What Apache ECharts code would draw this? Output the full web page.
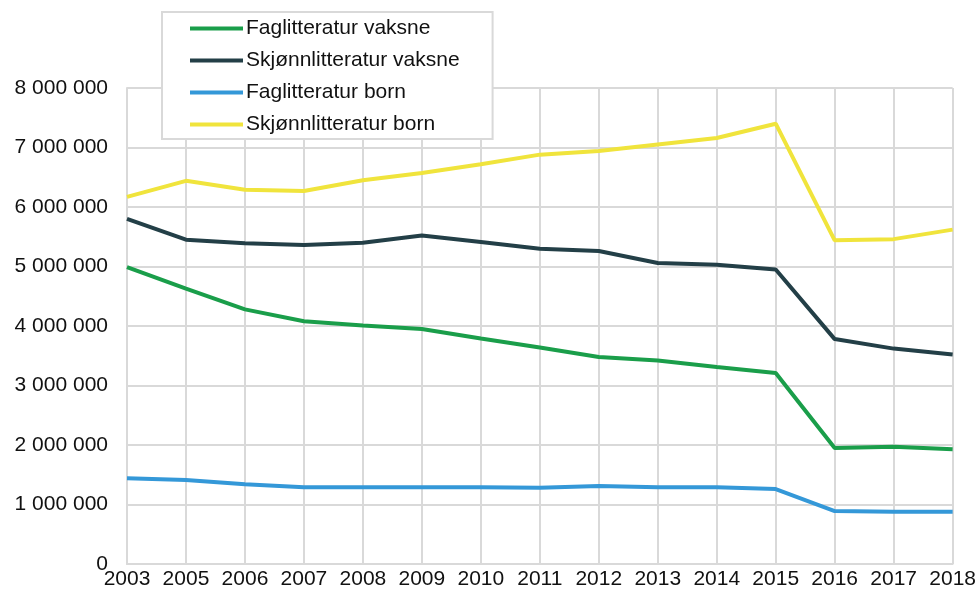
<!DOCTYPE html>
<html>
<head>
<meta charset="utf-8">
<script src="https://cdn.jsdelivr.net/npm/echarts@6/dist/echarts.min.js"></script>
<style>
  html, body { margin: 0; padding: 0; background: #fff; }
  #chart { width: 979px; height: 590px; }
</style>
</head>
<body>
<div id="chart"></div>
<script>
var years = ['2003', '2005', '2006', '2007', '2008', '2009', '2010', '2011', '2012', '2013', '2014', '2015', '2016', '2017', '2018'];
var fagVaksne = [4990000, 4630000, 4280000, 4080000, 4010000, 3950000, 3790000, 3640000, 3480000, 3420000, 3310000, 3210000, 1950000, 1970000, 1930000];
var skjonnVaksne = [5800000, 5450000, 5390000, 5360000, 5400000, 5520000, 5410000, 5300000, 5260000, 5060000, 5030000, 4950000, 3780000, 3620000, 3520000];
var fagBorn = [1440000, 1410000, 1340000, 1290000, 1290000, 1290000, 1290000, 1280000, 1310000, 1290000, 1290000, 1260000, 890000, 880000, 880000];
var skjonnBorn = [6170000, 6440000, 6290000, 6270000, 6450000, 6570000, 6720000, 6880000, 6940000, 7050000, 7160000, 7400000, 5440000, 5460000, 5620000];

var seriesNames = ['Faglitteratur vaksne', 'Skjønnlitteratur vaksne', 'Faglitteratur born', 'Skjønnlitteratur born'];
var seriesData = [fagVaksne, skjonnVaksne, fagBorn, skjonnBorn];
var colors = ['#1a9e4a', '#233f47', '#3498d8', '#f0e43c'];

function fmt(v) {
    return String(v).replace(/\B(?=(\d{3})+(?!\d))/g, ' ');
}

var myChart = echarts.init(document.getElementById('chart'));
var option = {
    animation: false,
    textStyle: { fontFamily: 'Liberation Sans, Arial, sans-serif' },
    legend: {
        orient: 'vertical',
        left: 162,
        top: 12,
        padding: [6, 33, 4, 28],
        itemGap: 11,
        itemWidth: 53,
        itemHeight: 4,
        icon: 'rect',
        borderColor: '#d9d9d9',
        borderWidth: 2,
        backgroundColor: '#fff',
        textStyle: { color: '#111', fontSize: 21, padding: [0, 0, 0, -2] },
        data: seriesNames
    },
    grid: {
        left: 127,
        right: 26,
        top: 88,
        bottom: 25
    },
    xAxis: {
        type: 'category',
        boundaryGap: false,
        data: years,
        axisLine: { lineStyle: { color: '#d9d9d9', width: 2 } },
        axisTick: { show: false },
        splitLine: { show: true, interval: 0, lineStyle: { color: '#d9d9d9', width: 2 } },
        axisLabel: { color: '#111', fontSize: 21, margin: 5, interval: 0, hideOverlap: false }
    },
    yAxis: {
        type: 'value',
        min: 0,
        max: 8000000,
        interval: 1000000,
        axisLine: { show: true, lineStyle: { color: '#d9d9d9', width: 2 } },
        axisTick: { show: false },
        splitLine: { lineStyle: { color: '#d9d9d9', width: 2 } },
        axisLabel: { color: '#111', fontSize: 21, margin: 19, formatter: fmt }
    },
    series: seriesData.map(function (d, i) {
        return {
            name: seriesNames[i],
            type: 'line',
            data: d,
            symbol: 'none',
            color: colors[i],
            lineStyle: { width: 4, color: colors[i] }
        };
    })
};
myChart.setOption(option);
</script>
</body>
</html>
